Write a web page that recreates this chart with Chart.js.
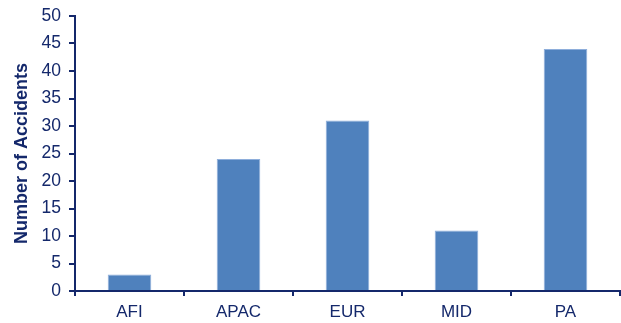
<!DOCTYPE html>
<html>
<head>
<meta charset="utf-8">
<script src="https://cdn.jsdelivr.net/npm/chart.js@4"></script>
<style>
  html, body { margin: 0; padding: 0; background: #fff; }
  #wrap { width: 621px; height: 323px; }
</style>
</head>
<body>
<div id="wrap"><canvas id="myChart"></canvas></div>
<script>
let regions = ["AFI", "APAC", "EUR", "MID", "PA"];
let accidents = [3, 24, 31, 11, 44];
let yMax = 50;
let yStep = 5;

let navy = "#14286b";
let barColor = "#4f81bd";

let ctx = document.getElementById("myChart").getContext("2d");
let barChart = new Chart(ctx, {
  type: "bar",
  data: {
    labels: regions,
    datasets: [
      {
        label: "Number of Accidents",
        data: accidents,
        backgroundColor: barColor,
        borderColor: "#8eaedb",
        borderWidth: { top: 1, left: 1, right: 1, bottom: 0 },
        categoryPercentage: 1,
        barPercentage: 0.4,
      },
    ],
  },
  options: {
    responsive: true,
    maintainAspectRatio: false,
    animation: false,
    layout: { padding: { top: 16, right: 1, left: 0, bottom: 0 } },
    plugins: {
      legend: { display: false },
      tooltip: { enabled: false },
    },
    scales: {
      x: {
        grid: {
          display: true,
          drawOnChartArea: false,
          drawTicks: true,
          tickLength: 5,
          color: navy,
          lineWidth: 2,
          offset: true,
        },
        border: { color: navy, width: 2 },
        ticks: {
          color: navy,
          font: { family: "Liberation Sans", size: 17 },
          padding: 6,
        },
        afterFit: (scale) => { scale.height = 32; },
      },
      y: {
        min: 0,
        max: yMax,
        ticks: {
          stepSize: yStep,
          color: navy,
          font: { family: "Liberation Sans", size: 17.5 },
          padding: 8,
        },
        grid: {
          display: true,
          drawOnChartArea: false,
          drawTicks: true,
          tickLength: 6,
          color: navy,
          lineWidth: 2,
        },
        border: { color: navy, width: 2 },
        title: {
          display: true,
          text: "Number of Accidents",
          color: navy,
          font: { family: "Liberation Sans", size: 18, weight: "bold" },
          padding: { top: 11, bottom: 0 },
        },
        afterFit: (scale) => {
          scale.width = 75;
          scale.paddingTop = 0;
        },
      },
    },
  },
});
</script>
</body>
</html>
